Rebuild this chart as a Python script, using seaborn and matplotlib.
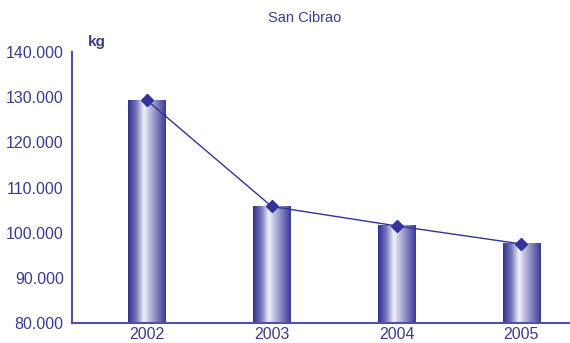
import numpy as np
import pandas as pd
import matplotlib
matplotlib.use("Agg")
import matplotlib.pyplot as plt
from matplotlib.colors import LinearSegmentedColormap
import seaborn as sns

years = ["2002", "2003", "2004", "2005"]
kg = [129300, 105800, 101500, 97500]

navy = "#333399"
txt = "#3b3b8f"
ymin, ymax = 80000, 140000

sns.set_style("white")
plt.rcParams["font.family"] = ["Liberation Sans", "DejaVu Sans"]

df = pd.DataFrame({"year": years, "kg": kg})

fig = plt.figure(figsize=(5.7, 3.43), dpi=100)
ax = fig.add_axes([72 / 570, 1 - 323 / 343, 1 - 72 / 570, (323 - 52) / 343])

sns.barplot(data=df, x="year", y="kg", color=navy, width=0.3, ax=ax)

# gradient fill: dark edges, light stripe just left of centre
cmap = LinearSegmentedColormap.from_list(
    "bar", [(0, "#30308c"), (0.22, "#7676bb"), (0.42, "#f2f2fa"),
            (0.6, "#b4b4da"), (1, "#3a3a96")])
grad = np.linspace(0, 1, 256).reshape(1, -1)
for p in ax.patches:
    x0 = p.get_x()
    w, h = p.get_width(), p.get_height()
    ax.imshow(grad, cmap=cmap, aspect="auto", extent=[x0, x0 + w, ymin, h],
              zorder=p.get_zorder() + 0.1)
    p.set_edgecolor("none")

ax.plot(range(len(years)), kg, color=navy, lw=1, marker="D", markersize=6, zorder=5)

ax.set_ylim(ymin, ymax)
ax.set_xlim(-0.6, 3.39)
ax.set_yticks(range(ymin, ymax + 1, 10000))
ax.set_yticklabels([f"{v:,}".replace(",", ".") for v in range(ymin, ymax + 1, 10000)])
ax.set_xticks(range(len(years)))
ax.set_xticklabels(years)
ax.set_xticks([0.5, 1.5, 2.5], minor=True)
ax.set_xlabel("")
ax.set_ylabel("")

for s in ["top", "right"]:
    ax.spines[s].set_visible(False)
for s in ["left", "bottom"]:
    ax.spines[s].set_color("#5050a8")
    ax.spines[s].set_linewidth(1.5)

ax.tick_params(axis="y", direction="out", length=4, width=1.2, color="#5050a8",
               labelsize=11.5, labelcolor=txt, pad=2)
ax.tick_params(axis="x", which="major", length=0, labelsize=11.5, labelcolor=txt, pad=3)
ax.tick_params(axis="x", which="minor", direction="out", length=4, width=1.2, color="#5050a8")
ax.set_facecolor("none")

fig.text(305 / 570, 1 - 18 / 343, "San Cibrao", ha="center", va="center",
         fontsize=10.5, color=txt)
fig.text(88 / 570, 1 - 42 / 343, "kg", ha="left", va="center",
         fontsize=11, color=txt, fontweight="bold")

fig.savefig("out.png", dpi=100)
